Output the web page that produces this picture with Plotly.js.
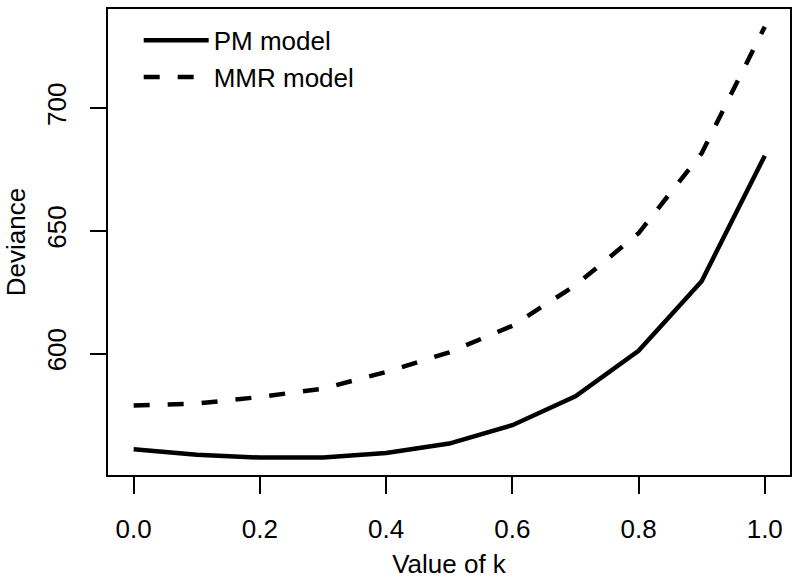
<!DOCTYPE html>
<html>
<head>
<meta charset="utf-8">
<script src="https://cdn.plot.ly/plotly-3.0.1.min.js"></script>
<style>html,body{margin:0;padding:0;background:#fff;}#chart{width:800px;height:585px;}</style>
</head>
<body>
<div id="chart"></div>
<script>
const kValues = [0.0, 0.1, 0.2, 0.3, 0.4, 0.5, 0.6, 0.7, 0.8, 0.9, 1.0];
const pmDeviance = [561.0, 558.8, 557.6, 557.6, 559.5, 563.3, 570.8, 582.6, 601.1, 629.5, 680.6];
const mmrDeviance = [578.8, 579.6, 582.3, 585.7, 592.5, 600.5, 611.3, 627.8, 649.0, 681.6, 733.2];
const seriesNames = ["PM model", "MMR model"];
const xTicks = [0.0, 0.2, 0.4, 0.6, 0.8, 1.0];
const xTickLabels = ["0.0", "0.2", "0.4", "0.6", "0.8", "1.0"];
const yTicks = [600, 650, 700];
const yTickLabels = ["600", "650", "700"];

const FONT = "Liberation Sans, Arial, Helvetica, sans-serif";
const FS = 26;

const traces = [
  {x: kValues, y: pmDeviance, name: seriesNames[0], mode: "lines",
   line: {color: "#000", width: 4.5, dash: "solid"}},
  {x: kValues, y: mmrDeviance, name: seriesNames[1], mode: "lines",
   line: {color: "#000", width: 4.5, dash: "16px,18px"}}
];

const layout = {
  width: 800, height: 585,
  margin: {l: 108, r: 10, t: 9, b: 110},
  paper_bgcolor: "#fff", plot_bgcolor: "#fff",
  font: {family: FONT, size: FS, color: "#000"},
  showlegend: true,
  legend: {x: 0.045, y: 0.983, xanchor: "left", yanchor: "top",
           bgcolor: "rgba(0,0,0,0)", borderwidth: 0, itemwidth: 65,
           font: {family: FONT, size: FS, color: "#000"}, tracegroupgap: 0},
  xaxis: {
    range: [-0.0407, 1.040], tickvals: xTicks, ticktext: xTickLabels,
    ticks: "outside", ticklen: 17, tickwidth: 2, tickcolor: "#000",
    showgrid: false, zeroline: false, showline: true, mirror: true,
    linecolor: "#000", linewidth: 2, ticklabelstandoff: 13,
    tickfont: {family: FONT, size: FS, color: "#000"},
    title: {text: "Value of k", font: {family: FONT, size: FS, color: "#000"}, standoff: 12}
  },
  yaxis: {
    range: [550.5, 740.4], tickvals: yTicks, ticktext: yTickLabels,
    ticks: "outside", ticklen: 16, tickwidth: 2, tickcolor: "#000", tickangle: -90,
    showgrid: false, zeroline: false, showline: true, mirror: true,
    linecolor: "#000", linewidth: 2, ticklabelstandoff: 14,
    tickfont: {family: FONT, size: FS, color: "#000"},
    title: {text: "Deviance", font: {family: FONT, size: FS, color: "#000"}, standoff: 8}
  }
};

Plotly.newPlot("chart", traces, layout, {staticPlot: true, displayModeBar: false});
</script>
</body>
</html>
